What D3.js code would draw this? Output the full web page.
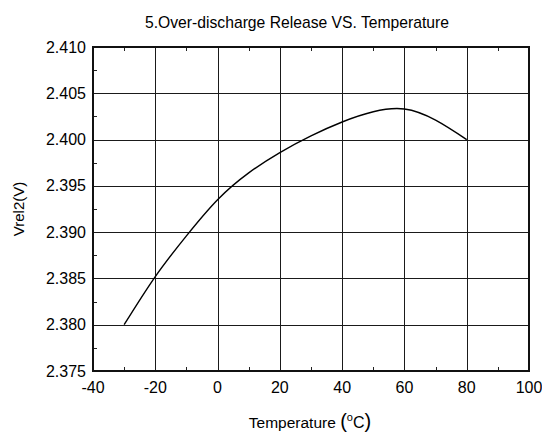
<!DOCTYPE html>
<html>
<head>
<meta charset="utf-8">
<script src="https://cdn.jsdelivr.net/npm/d3@7"></script>
<style>
  html, body { margin: 0; padding: 0; background: #fff; }
  svg { display: block; }
  text { font-family: "Liberation Sans", Arial, sans-serif; fill: #000; }
</style>
</head>
<body>
<svg id="chart" width="542" height="435"></svg>
<script>
// Release voltage vs. temperature
const temperature = [-30, -20, -10, 0, 10, 20, 30, 40, 50, 60, 70, 80];
const vrel2 = [2.3800, 2.3852, 2.3896, 2.3935, 2.3964, 2.3986, 2.4004, 2.4019, 2.4030, 2.4033, 2.4021, 2.4000];

const xTicks = [-40, -20, 0, 20, 40, 60, 80, 100];
const xMinor = [-30, -10, 10, 30, 50, 70, 90];
const yTicks = [2.375, 2.380, 2.385, 2.390, 2.395, 2.400, 2.405, 2.410];
const yMinor = [2.3775, 2.3825, 2.3875, 2.3925, 2.3975, 2.4025, 2.4075];

const titleText = "5.Over-discharge Release VS. Temperature";
const yLabel = "Vrel2(V)";

const svg = d3.select("#chart");
const x = d3.scaleLinear().domain([-40, 100]).range([93, 529]);
const y = d3.scaleLinear().domain([2.375, 2.410]).range([371, 47]);

// grid
const grid = svg.append("g").attr("stroke", "#1a1a1a").attr("stroke-width", 1).attr("shape-rendering", "crispEdges");
grid.selectAll("line.v").data(xTicks.slice(1, -1)).join("line").attr("class", "v")
  .attr("x1", d => Math.round(x(d)) + 0.5).attr("x2", d => Math.round(x(d)) + 0.5)
  .attr("y1", y(2.410)).attr("y2", y(2.375));
grid.selectAll("line.h").data(yTicks.slice(1, -1)).join("line").attr("class", "h")
  .attr("x1", x(-40)).attr("x2", x(100))
  .attr("y1", d => Math.round(y(d)) + 0.5).attr("y2", d => Math.round(y(d)) + 0.5);

// minor ticks
const mt = svg.append("g").attr("stroke", "#222").attr("stroke-width", 1).attr("shape-rendering", "crispEdges");
mt.selectAll("line.b").data(xMinor).join("line").attr("class", "b")
  .attr("x1", d => Math.round(x(d)) + 0.5).attr("x2", d => Math.round(x(d)) + 0.5)
  .attr("y1", y(2.375)).attr("y2", y(2.375) - 4);
mt.selectAll("line.t").data(xMinor).join("line").attr("class", "t")
  .attr("x1", d => Math.round(x(d)) + 0.5).attr("x2", d => Math.round(x(d)) + 0.5)
  .attr("y1", y(2.410)).attr("y2", y(2.410) + 4);
mt.selectAll("line.l").data(yMinor).join("line").attr("class", "l")
  .attr("x1", x(-40)).attr("x2", x(-40) + 4)
  .attr("y1", d => Math.round(y(d)) + 0.5).attr("y2", d => Math.round(y(d)) + 0.5);

// frame
svg.append("rect")
  .attr("x", x(-40)).attr("y", y(2.410))
  .attr("width", x(100) - x(-40)).attr("height", y(2.375) - y(2.410))
  .attr("fill", "none").attr("stroke", "#111").attr("stroke-width", 2);

// curve
const line = d3.line().x((d, i) => x(temperature[i])).y(d => y(d)).curve(d3.curveNatural);
svg.append("path").datum(vrel2)
  .attr("d", line).attr("fill", "none").attr("stroke", "#000").attr("stroke-width", 1.4);

// tick labels
svg.append("g").selectAll("text").data(xTicks).join("text")
  .attr("x", d => x(d)).attr("y", 393)
  .attr("text-anchor", "middle").attr("font-size", 16)
  .text(d => d);
svg.append("g").selectAll("text").data(yTicks).join("text")
  .attr("x", 86).attr("y", d => y(d) + 5.5)
  .attr("text-anchor", "end").attr("font-size", 16)
  .text(d => d3.format(".3f")(d));

// title
svg.append("text").attr("x", 297).attr("y", 28)
  .attr("text-anchor", "middle").attr("font-size", 15.7)
  .text(titleText);

// axis titles
svg.append("text")
  .attr("transform", `translate(24, ${(y(2.375) + y(2.410)) / 2}) rotate(-90)`)
  .attr("text-anchor", "middle").attr("font-size", 15)
  .text(yLabel);

const xl = svg.append("text").attr("x", 310).attr("y", 428)
  .attr("text-anchor", "middle").attr("font-size", 15.5);
xl.append("tspan").text("Temperature ");
xl.append("tspan").attr("font-size", 20).text("(");
xl.append("tspan").attr("font-size", 11).attr("dy", -7).text("o");
xl.append("tspan").attr("dy", 7).attr("font-size", 16).text("C");
xl.append("tspan").attr("font-size", 20).text(")");
</script>
</body>
</html>
